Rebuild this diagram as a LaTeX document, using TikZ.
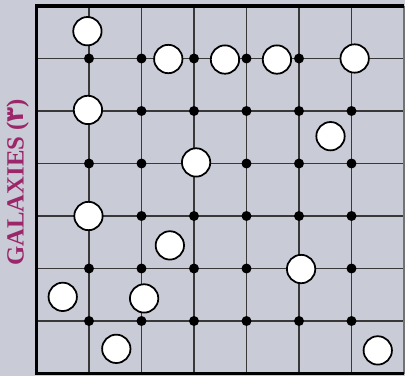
\documentclass[tikz,border=0pt]{standalone}
\usepackage{fontspec}
\setmainfont{Liberation Serif}
\newfontfamily\arabicfont[Script=Arabic]{DejaVu Sans}
\TeXXeTstate=1
\definecolor{boardbg}{RGB}{201,204,214}
\definecolor{labelpurple}{RGB}{155,38,106}

\begin{document}
\begin{tikzpicture}[x=1cm,y=1cm]
  \tikzset{
    galaxy/.style={circle,draw=black,fill=white,line width=0.95pt,
      minimum size=0.54cm,inner sep=0pt},
    star/.style={circle,fill=black,inner sep=0pt,minimum size=0.19cm},
    gridline/.style={line width=0.6pt,black!78},
    rim/.style={line width=1.9pt,black}
  }
  \useasboundingbox[fill=boardbg] (-0.695,-0.048) rectangle (7.019,7.114);

  % board
  \foreach \k in {1,...,6} {
    \draw[gridline] (\k,0) -- (\k,7);
    \draw[gridline] (0,\k) -- (7,\k);
  }
  \draw[gridline,line width=0.9pt,black!55] (7,0) -- (7,7);
  \draw[rim] (7,7) -- (0,7) -- (0,0) -- (7,0);

  % grid points, row by row
  \foreach \j/\cols in {6/{1,2,3,4,5},5/{2,3,4,5,6},4/{1,2,4,5,6},
                        3/{2,3,4,5,6},2/{1,2,3,4,6},1/{1,2,3,4,5,6}}
    \foreach \i in \cols
      \node[star] (s\i\j) at (\i,\j) {};

  % galaxies
  \foreach \n/\x/\y in {1/0.97/6.52, 2/2.51/5.99, 3/3.59/5.98, 4/4.58/5.98,
                        5/6.06/6.00, 6/0.98/5.02, 7/5.60/4.52, 8/3.04/4.02,
                        9/0.99/3.00, 10/2.54/2.44, 11/5.04/1.99, 12/0.50/1.46,
                        13/2.05/1.43, 14/1.52/0.47, 15/6.50/0.44}
    \node[galaxy] (g\n) at (\x,\y) {};

  \node[rotate=90,text=labelpurple,inner sep=0pt,
    font=\bfseries\fontsize{13.4}{16}\selectfont] (title) at (-0.36,3.64)
    {GALAXIES ({\arabicfont\beginR ٣\endR})};
\end{tikzpicture}
\end{document}
